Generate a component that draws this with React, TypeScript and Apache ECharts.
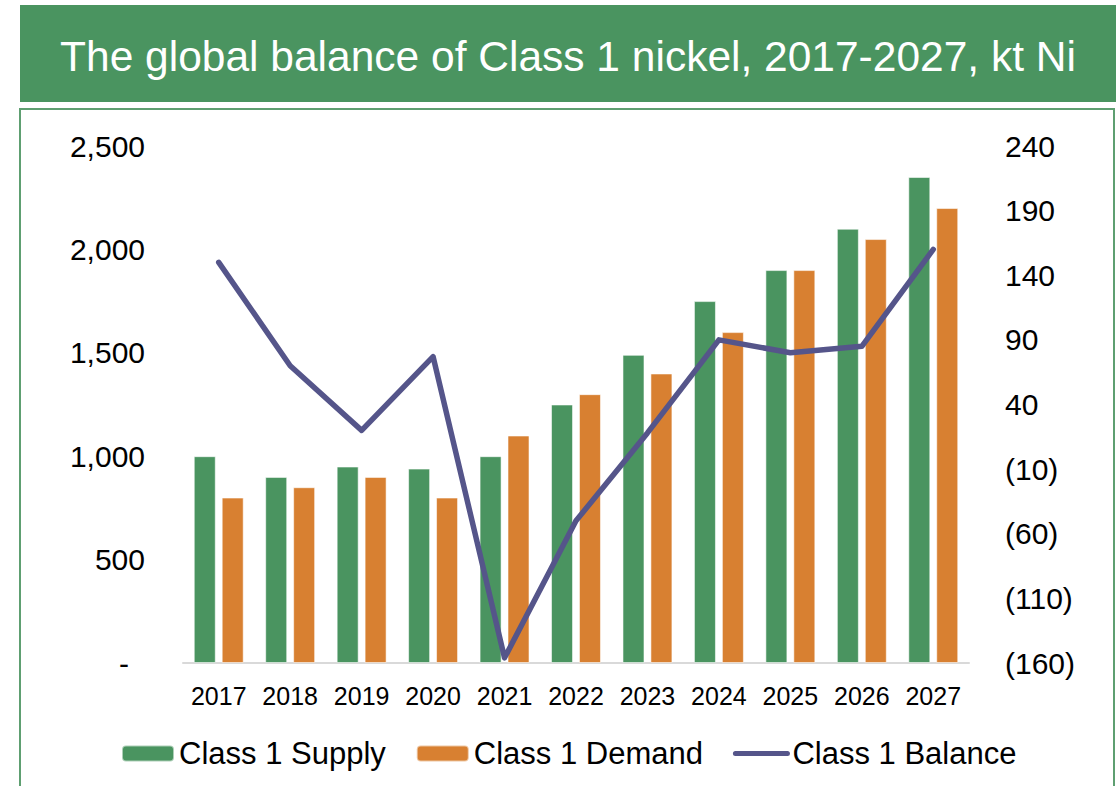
import React, { useEffect, useRef } from "react";
import * as echarts from "echarts";

const years = ["2017", "2018", "2019", "2020", "2021", "2022", "2023", "2024", "2025", "2026", "2027"];
const supply = [1000, 900, 950, 940, 1000, 1250, 1490, 1750, 1900, 2100, 2350];
const demand = [800, 850, 900, 800, 1100, 1300, 1400, 1600, 1900, 2050, 2200];
const balance = [150, 70, 20, 77, -156, -50, 18, 90, 80, 85, 160];
const rightTicks = [-160, -110, -60, -10, 40, 90, 140, 190, 240];
const titleText = "The global balance of Class 1 nickel, 2017-2027, kt Ni";

const FONT = "'Liberation Sans', Arial, sans-serif";
const GREEN = "#4A9460";
const ORANGE = "#D88031";
const PURPLE = "#55558A";

export default function App() {
  const ref = useRef<HTMLDivElement>(null);
  useEffect(() => {
    if (!ref.current) return;
    const chart = echarts.init(ref.current, null, { renderer: "svg" });
    chart.setOption({
      animation: false,
      backgroundColor: "#ffffff",
      textStyle: { fontFamily: FONT },
      graphic: [
        { type: "rect", shape: { x: 20, y: 5, width: 1096, height: 97 }, style: { fill: GREEN } },
        {
          type: "text",
          x: 568,
          y: 56,
          style: {
            text: titleText,
            fill: "#ffffff",
            font: `42.5px ${FONT}`,
            align: "center",
            verticalAlign: "middle",
          },
        },
        {
          type: "rect",
          shape: { x: 20, y: 109, width: 1094, height: 700 },
          style: { fill: "none", stroke: "#5E9F71", lineWidth: 2 },
        },
      ],
      grid: { left: 183, right: 147, top: 146, bottom: 123, containLabel: false },
      legend: {
        left: 121,
        top: 738,
        padding: 0,
        itemWidth: 52,
        itemHeight: 16,
        itemGap: 30,
        textStyle: { fontSize: 31, color: "#000", fontFamily: FONT },
        data: [
          "Class 1 Supply",
          "Class 1 Demand",
          { name: "Class 1 Balance", itemStyle: { opacity: 0 }, lineStyle: { width: 5, color: PURPLE } },
        ],
      },
      xAxis: {
        type: "category",
        data: years,
        axisLine: { lineStyle: { color: "#D9D9D9", width: 2 } },
        axisTick: { show: false },
        axisLabel: { fontSize: 25, color: "#000", margin: 20, interval: 0, fontFamily: FONT },
      },
      yAxis: [
        {
          type: "value",
          min: 0,
          max: 2500,
          interval: 500,
          splitLine: { show: false },
          axisLine: { show: false },
          axisTick: { show: false },
          axisLabel: {
            fontSize: 30,
            color: "#000",
            margin: 38,
            fontFamily: FONT,
            formatter: (v: number) => (v === 0 ? "{d|-}" : v.toLocaleString("en-US")),
            rich: { d: { fontSize: 30, color: "#000", padding: [0, 16, 0, 0], fontFamily: FONT } },
          },
        },
        {
          type: "value",
          min: -160,
          max: 240,
          position: "right",
          splitLine: { show: false },
          axisLine: { show: false },
          axisTick: { show: false },
          axisLabel: {
            fontSize: 30,
            color: "#000",
            margin: 36,
            align: "left",
            fontFamily: FONT,
            customValues: rightTicks,
            formatter: (v: number) => (v < 0 ? `(${-v})` : `${v}`),
          },
        },
      ],
      series: [
        {
          name: "Class 1 Supply",
          type: "bar",
          data: supply,
          barWidth: 22,
          barGap: "27%",
          itemStyle: { color: GREEN, borderColor: "rgba(255,255,255,0.55)", borderWidth: 1 },
        },
        {
          name: "Class 1 Demand",
          type: "bar",
          data: demand,
          barWidth: 22,
          barGap: "27%",
          itemStyle: { color: ORANGE, borderColor: "rgba(255,255,255,0.55)", borderWidth: 1 },
        },
        {
          name: "Class 1 Balance",
          type: "line",
          yAxisIndex: 1,
          data: balance,
          symbol: "none",
          z: 5,
          lineStyle: { color: PURPLE, width: 5.5, cap: "round", join: "round" },
          itemStyle: { color: PURPLE },
        },
      ],
    });
    return () => chart.dispose();
  }, []);
  return (
    <div
      ref={ref}
      style={{ position: "absolute", left: 0, top: 0, width: 1116, height: 786, background: "#fff" }}
    />
  );
}
